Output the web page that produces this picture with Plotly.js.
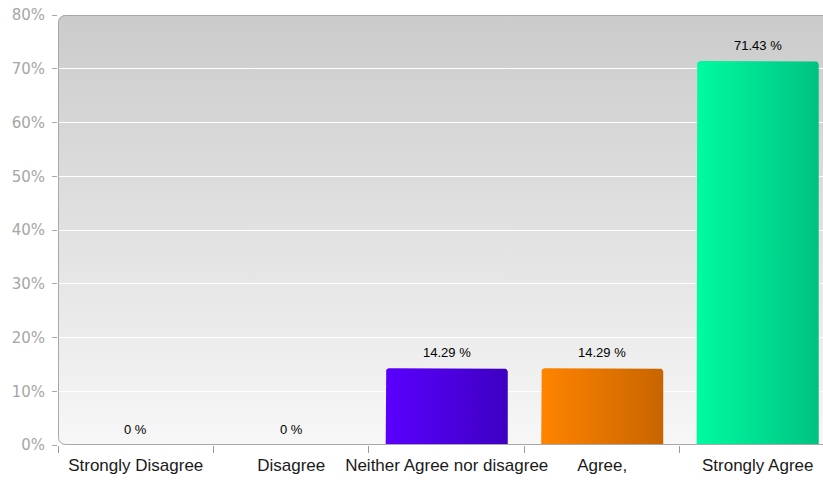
<!DOCTYPE html>
<html>
<head>
<meta charset="utf-8">
<script src="https://cdn.plot.ly/plotly-3.0.1.min.js"></script>
<style>html,body{margin:0;padding:0;background:#fff;}</style>
</head>
<body>
<div id="chart" style="width:823px;height:480px;"></div>
<script>
const categories = ["Strongly Disagree", "Disagree", "Neither Agree nor disagree", "Agree,", "Strongly Agree"];
const values = [0, 0, 14.29, 14.29, 71.43];
const colorsLeft = ["#9a9a9a", "#9a9a9a", "#5a00ff", "#ff8400", "#00fba0"];
const colorsRight = ["#707070", "#707070", "#3e00c2", "#c86400", "#00c282"];
const yTicks = [0, 10, 20, 30, 40, 50, 60, 70, 80];

const barWidth = 0.785;
// small rounded top corners (radius in data units: ~4px)
const rX = 0.026, rY = 0.74;
function barOutline(i, v) {
  const x0 = i - barWidth / 2, x1 = i + barWidth / 2;
  const ry = Math.min(rY, v);
  const xs = [x0], ys = [0];
  const n = 6;
  for (let k = 0; k <= n; k++) {
    const a = Math.PI - (Math.PI / 2) * (k / n);
    xs.push(x0 + rX + rX * Math.cos(a));
    ys.push(v - ry + ry * Math.sin(a));
  }
  for (let k = 0; k <= n; k++) {
    const a = Math.PI / 2 - (Math.PI / 2) * (k / n);
    xs.push(x1 - rX + rX * Math.cos(a));
    ys.push(v - ry + ry * Math.sin(a));
  }
  xs.push(x1, x0);
  ys.push(0, 0);
  return {xs, ys};
}

const traces = values.map((v, i) => {
  const o = barOutline(i, v);
  return {
    type: "scatter",
    mode: "lines",
    x: o.xs,
    y: o.ys,
    fill: "toself",
    line: {width: 0},
    fillgradient: {type: "horizontal", colorscale: [[0, colorsLeft[i]], [1, colorsRight[i]]]},
    hoverinfo: "skip",
    showlegend: false
  };
});

const plotW = 765, plotH = 430;
const bgSvg = `<svg xmlns="http://www.w3.org/2000/svg" width="${plotW}" height="${plotH}" viewBox="0 0 ${plotW} ${plotH}" preserveAspectRatio="none"><defs><linearGradient id="g" x1="0" y1="0" x2="0" y2="1"><stop offset="0" stop-color="#cbcbcb"/><stop offset="1" stop-color="#f7f7f7"/></linearGradient></defs><rect x="0" y="0" width="${plotW + 30}" height="${plotH}" rx="7" ry="7" fill="url(#g)"/></svg>`;
const borderSvg = `<svg xmlns="http://www.w3.org/2000/svg" width="${plotW}" height="${plotH}" viewBox="0 0 ${plotW} ${plotH}" preserveAspectRatio="none"><rect x="0.5" y="0.5" width="${plotW + 30}" height="${plotH - 1}" rx="7" ry="7" fill="none" stroke="#a8a8a8" stroke-width="1"/></svg>`;
const uri = s => "data:image/svg+xml;charset=utf-8," + encodeURIComponent(s);

const annotations = values.map((v, i) => ({
  x: i, y: v, xref: "x", yref: "y",
  text: v + " %",
  showarrow: false,
  yanchor: "bottom",
  yshift: 6,
  font: {family: "Liberation Sans, Arial, sans-serif", size: 13, color: "#000", weight: 500}
}));

const layout = {
  width: 823, height: 480,
  margin: {l: 58, r: 0, t: 15, b: 35},
  paper_bgcolor: "#ffffff",
  plot_bgcolor: "rgba(0,0,0,0)",
  showlegend: false,
  xaxis: {
    range: [-0.5, 4.42],
    tickmode: "array",
    tickvals: categories.map((c, i) => i),
    ticktext: categories,
    ticks: "",
    showgrid: false, zeroline: false, showline: false,
    tickfont: {family: "Liberation Sans, Arial, sans-serif", size: 17, color: "#1a1a1a"},
    ticklabelstandoff: 8,
    minor: {tick0: -0.5, dtick: 1, ticks: "outside", ticklen: 7, tickcolor: "#9a9a9a", tickwidth: 1, showgrid: false},
    fixedrange: true
  },
  yaxis: {
    range: [0, 80],
    tickmode: "array",
    tickvals: yTicks,
    ticktext: yTicks.map(t => t + "%"),
    ticks: "outside", ticklen: 5, tickcolor: "#a8a8a8", tickwidth: 1,
    showgrid: true, gridcolor: "#ffffff", gridwidth: 1,
    zeroline: false, showline: false,
    tickfont: {family: "DejaVu Sans, Verdana, sans-serif", size: 15, color: "#a6a6a6"},
    ticklabelstandoff: 4,
    fixedrange: true
  },
  images: [
    {source: uri(bgSvg), xref: "paper", yref: "paper", x: 0, y: 1, sizex: 1, sizey: 1, sizing: "stretch", xanchor: "left", yanchor: "top", layer: "below"},
    {source: uri(borderSvg), xref: "paper", yref: "paper", x: 0, y: 1, sizex: 1, sizey: 1, sizing: "stretch", xanchor: "left", yanchor: "top", layer: "above"}
  ],
  annotations: annotations
};

Plotly.newPlot("chart", traces, layout, {displayModeBar: false, staticPlot: true});
</script>
</body>
</html>
